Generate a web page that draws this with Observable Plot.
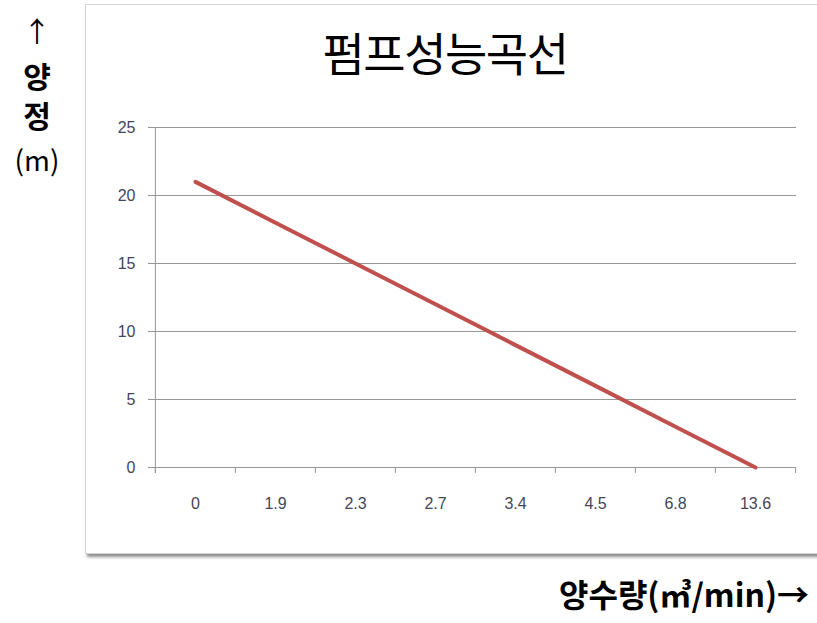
<!DOCTYPE html>
<html>
<head>
<meta charset="utf-8">
<script src="https://cdn.jsdelivr.net/npm/d3@7"></script>
<script src="https://cdn.jsdelivr.net/npm/@observablehq/plot@0.6"></script>
<style>
  html, body { margin: 0; padding: 0; background: #ffffff; }
  #page { position: relative; width: 817px; height: 623px; overflow: hidden; background: #fff; }
  #box { position: absolute; left: 85px; top: 4px; width: 780px; height: 548px; background: #fff;
         border: 1px solid #d4d4d4; box-shadow: 2px 3px 3px rgba(0,0,0,0.45); }
  #chart { position: absolute; left: 0; top: 0; }
  .title { position: absolute; left: 245px; width: 400px; top: 28px; text-align: center;
           font-family: "Noto Sans CJK KR", sans-serif; font-size: 46px; letter-spacing: -1.5px; line-height: 1; color: #000; }
  .ylab { position: absolute; left: 2px; width: 70px; text-align: center; font-family: "Noto Sans CJK KR", sans-serif;
          color: #000; line-height: 1; }
  .xlab { position: absolute; right: 8px; top: 577px; font-family: "Noto Sans CJK KR", sans-serif;
          font-weight: bold; font-size: 32px; line-height: 1; color: #000; }
</style>
</head>
<body>
<div id="page">
  <div id="box"></div>
  <div id="chart"></div>
  <div class="title">펌프성능곡선</div>
  <div class="ylab" style="top:16px;font-size:28px;">↑</div>
  <div class="ylab" style="top:56px;font-size:30px;font-weight:bold;line-height:39px;white-space:pre-line;">양
정</div>
  <div class="ylab" style="top:145px;font-size:28px;">(m)</div>
  <div class="xlab">양수량(㎥/min)→</div>
</div>
<script>
const flowLabels = ["0", "1.9", "2.3", "2.7", "3.4", "4.5", "6.8", "13.6"];
const headValues = [21, 18, 15, 12, 9, 6, 3, 0];
const yTicks = [0, 5, 10, 15, 20, 25];

const data = flowLabels.map((f, i) => ({flow: f, head: headValues[i]}));

const W = 817, H = 623, mL = 154, mR = 21, mT = 127, mB = 156;
const step = (W - mL - mR) / flowLabels.length;
const gridColor = "#979797";
const labelColor = "#45455a";

const chart = Plot.plot({
  width: W, height: H,
  marginLeft: mL, marginRight: mR, marginTop: mT, marginBottom: mB,
  style: {background: "transparent", fontFamily: "Liberation Sans, sans-serif", fontSize: "17px", color: labelColor, overflow: "visible"},
  x: {type: "point", domain: flowLabels, padding: 0.5, axis: null},
  y: {domain: [0, 25], axis: null},
  marks: [
    Plot.ruleY(yTicks, {stroke: gridColor, strokeWidth: 1, insetLeft: -6}),
    Plot.ruleX([flowLabels[0]], {dx: -step / 2, stroke: gridColor, insetBottom: -6}),
    Plot.ruleX(flowLabels, {dx: -step / 2, y1: 0, y2: 0, insetBottom: -6, stroke: gridColor}),
    Plot.ruleX([flowLabels[flowLabels.length - 1]], {dx: step / 2, y1: 0, y2: 0, insetBottom: -6, stroke: gridColor}),
    Plot.text(yTicks, {y: d => d, frameAnchor: "left", dx: -19, textAnchor: "end", text: d => String(d), fill: labelColor, fontSize: 16}),
    Plot.text(flowLabels, {x: d => d, frameAnchor: "bottom", dy: 41, text: d => d, fill: labelColor, fontSize: 16}),
    Plot.line(data, {x: "flow", y: "head", stroke: "#c0504d", strokeWidth: 4})
  ]
});
document.getElementById("chart").appendChild(chart);
</script>
</body>
</html>
